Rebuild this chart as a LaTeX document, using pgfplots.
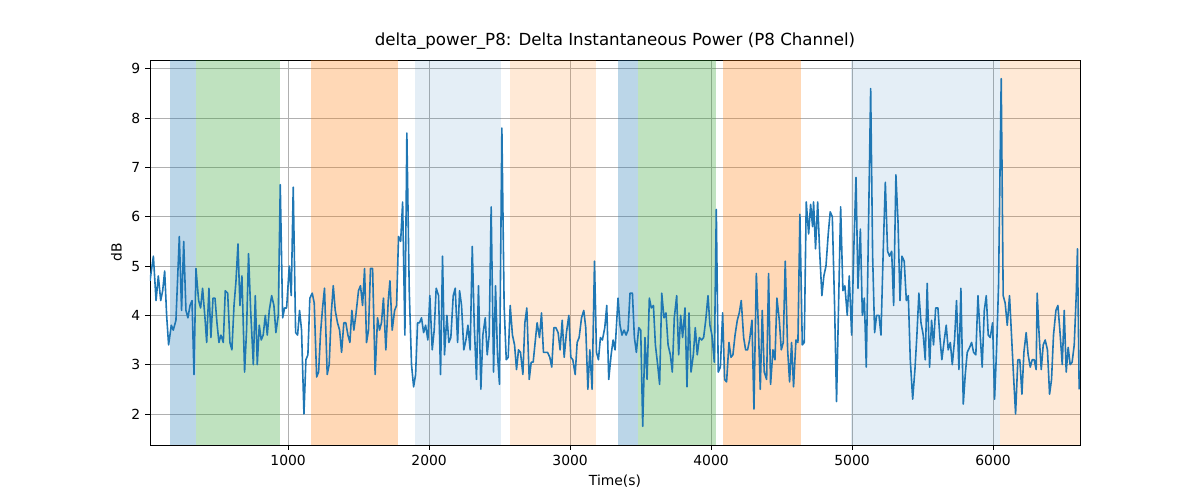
\documentclass[border=0pt]{standalone}
\usepackage{pgfplots}
\pgfplotsset{compat=1.18}
\usepackage{fontspec}
\setmainfont{DejaVu Sans}
\definecolor{tb}{HTML}{1F77B4}
\definecolor{tg}{HTML}{2CA02C}
\definecolor{to}{HTML}{FF7F0E}
\definecolor{gr}{HTML}{B0B0B0}
\begin{document}
\begin{tikzpicture}
\path[use as bounding box] (-108pt,-39.6pt) rectangle (756pt,320.4pt);
\begin{axis}[at={(0,0)},anchor=south west,scale only axis,width=669.6pt,height=277.2pt,
xmin=20,xmax=6617,ymin=1.37,ymax=9.18,
xtick={1000,2000,3000,4000,5000,6000},ytick={2,3,4,5,6,7,8,9},
xtick pos=left,ytick pos=left,
grid=major,grid style={color=gr,line width=0.58pt},
tick align=outside,tick style={black,line width=0.58pt},major tick length=3.5pt,
axis line style={line width=0.58pt},
/pgf/number format/assume math mode=true,
/pgf/number format/set thousands separator={},
ticklabel style={font=\fontsize{10}{12}\selectfont},
label style={font=\fontsize{10}{12}\selectfont},
xlabel={Time(s)},ylabel={dB},
title={delta\_power\_P8: Delta Instantaneous Power (P8 Channel)},
title style={font=\fontsize{12}{14}\selectfont,yshift=-2pt},
clip=true]
\fill[tb,opacity=0.3] (axis cs:163,1.37) rectangle (axis cs:348,9.18);
\fill[tg,opacity=0.3] (axis cs:348,1.37) rectangle (axis cs:943,9.18);
\fill[to,opacity=0.3] (axis cs:1163,1.37) rectangle (axis cs:1780,9.18);
\fill[tb,opacity=0.12] (axis cs:1901,1.37) rectangle (axis cs:2511,9.18);
\fill[to,opacity=0.17] (axis cs:2574,1.37) rectangle (axis cs:3184,9.18);
\fill[tb,opacity=0.3] (axis cs:3340,1.37) rectangle (axis cs:3482,9.18);
\fill[tg,opacity=0.3] (axis cs:3482,1.37) rectangle (axis cs:4035,9.18);
\fill[to,opacity=0.3] (axis cs:4085,1.37) rectangle (axis cs:4638,9.18);
\fill[tb,opacity=0.12] (axis cs:4993,1.37) rectangle (axis cs:6050,9.18);
\fill[to,opacity=0.17] (axis cs:6050,1.37) rectangle (axis cs:6617,9.18);
\addplot[tb,line width=1.15pt,line join=round] coordinates {
(20,4.7)(44,5.2)(63,4.3)(79,4.8)(96,4.3)(110,4.5)(124,4.9)(138,4.0)(152,3.4)(171,3.8)(185,3.7)(204,3.9)(228,5.6)(244,4.1)(259,5.5)(275,4.1)(289,3.95)(304,4.2)(318,4.3)(332,2.8)(346,4.95)(365,4.3)(379,4.15)(393,4.55)(410,3.95)(422,3.45)(438,4.55)(452,3.55)(467,4.35)(481,4.35)(495,3.85)(509,3.45)(523,3.6)(540,3.45)(554,4.5)(571,4.45)(587,3.45)(601,3.3)(616,4.2)(630,4.7)(644,5.45)(658,4.2)(672,4.8)(691,2.85)(705,3.7)(719,5.25)(734,4.1)(753,3.0)(767,4.4)(781,3.0)(795,3.8)(809,3.5)(823,3.6)(838,4.0)(852,3.6)(866,4.1)(883,4.4)(899,4.2)(913,3.65)(930,4.0)(944,6.65)(961,3.95)(975,4.15)(989,4.15)(1008,5.0)(1022,4.4)(1036,6.6)(1053,3.65)(1067,3.6)(1081,4.1)(1095,3.7)(1112,2.0)(1126,3.1)(1140,3.2)(1154,4.35)(1171,4.45)(1185,4.25)(1202,2.75)(1216,2.85)(1230,3.65)(1244,4.15)(1258,4.55)(1277,2.8)(1291,3.0)(1306,4.05)(1320,4.6)(1334,4.1)(1350,3.85)(1365,3.7)(1379,3.25)(1395,3.85)(1409,3.85)(1424,3.6)(1438,3.45)(1452,4.1)(1466,3.7)(1480,4.0)(1499,4.5)(1513,4.6)(1528,4.2)(1542,4.95)(1556,3.45)(1570,3.7)(1584,4.95)(1599,4.95)(1617,2.8)(1634,3.95)(1648,3.7)(1662,3.85)(1676,4.35)(1693,3.3)(1710,4.3)
(1722,4.7)(1738,3.7)(1755,4.1)(1769,4.2)(1783,5.6)(1798,5.5)(1812,6.3)(1828,3.6)(1842,7.7)(1859,4.5)(1875,3.0)(1890,2.55)(1904,2.8)(1918,3.85)(1932,3.85)(1946,3.95)(1961,3.65)(1975,3.8)(1991,3.5)(2005,4.4)(2022,3.3)(2036,3.7)(2050,4.55)(2067,4.4)(2081,2.8)(2095,5.2)(2109,3.2)(2126,4.0)(2140,3.45)(2154,3.55)(2171,4.4)(2185,4.55)(2202,3.45)(2216,4.5)(2230,4.2)(2246,3.3)(2261,3.5)(2275,3.8)(2291,3.3)(2306,5.4)(2320,3.8)(2336,2.7)(2350,4.6)(2367,2.5)(2381,3.6)(2398,3.95)(2412,3.2)(2426,3.6)(2440,6.2)(2457,2.85)(2471,4.6)(2485,3.2)(2499,2.6)(2516,7.8)(2532,4.2)(2547,3.1)(2561,3.15)(2575,4.2)(2591,3.6)(2606,3.4)(2620,2.9)(2634,3.3)(2648,3.25)(2665,2.8)(2679,3.85)(2693,4.15)(2710,2.7)(2724,3.05)(2738,3.05)(2752,3.45)(2766,3.85)(2783,3.55)(2797,4.05)(2811,3.25)(2825,3.25)(2840,3.25)(2856,3.15)(2870,2.95)(2885,3.75)(2899,3.75)(2915,3.65)(2929,3.3)(2944,3.9)(2958,3.15)(2974,3.65)(2991,4.0)(3005,3.15)(3019,3.1)(3036,2.8)(3050,3.45)(3064,3.55)(3081,3.95)(3097,4.1)(3111,3.75)(3126,2.5)(3140,3.3)(3156,2.5)(3173,5.1)(3187,3.25)(3201,3.1)(3215,3.55)(3229,3.5)(3246,3.75)(3260,4.2)(3274,2.7)(3291,3.2)(3305,3.5)(3319,3.3)
(3340,4.35)(3354,3.8)(3368,3.6)(3383,3.7)(3397,3.6)(3411,3.7)(3425,4.45)(3442,4.45)(3456,3.55)(3470,3.25)(3487,3.75)(3501,3.7)(3515,1.75)(3531,3.55)(3546,2.7)(3562,4.35)(3576,4.15)(3591,4.2)(3605,3.4)(3621,3.0)(3635,2.6)(3650,4.45)(3666,3.95)(3680,4.05)(3695,3.4)(3711,3.2)(3725,2.85)(3739,3.95)(3756,4.4)(3770,3.2)(3784,4.0)(3798,3.55)(3815,4.15)(3829,2.55)(3843,4.05)(3858,2.85)(3874,3.2)(3888,3.75)(3902,3.2)(3917,3.55)(3933,3.5)(3947,3.55)(3962,3.9)(3978,4.4)(3992,3.8)(4006,3.6)(4023,3.05)(4037,6.15)(4051,2.85)(4066,2.95)(4082,4.05)(4096,2.7)(4110,2.65)(4127,3.45)(4141,3.15)(4155,3.2)(4170,3.6)(4186,3.9)(4200,4.05)(4214,4.3)(4231,3.55)(4245,3.3)(4259,3.3)(4273,3.5)(4290,3.9)(4304,2.1)(4321,4.85)(4335,3.8)(4349,2.5)(4363,4.1)(4377,2.85)(4394,2.7)(4408,4.85)(4422,2.6)(4439,3.3)(4453,3.1)(4467,4.35)(4484,3.9)(4498,3.3)(4512,3.45)(4526,5.1)(4543,3.3)(4557,2.65)(4571,3.45)(4585,2.55)(4602,3.5)(4616,3.45)(4630,6.05)(4647,3.4)(4661,3.45)(4675,6.3)(4692,5.65)(4706,6.25)(4720,5.8)(4727,6.3)(4741,5.35)(4756,6.3)(4770,5.3)(4786,4.4)(4800,4.8)(4815,5.0)(4831,5.65)(4845,6.1)(4860,6.0)(4876,4.2)(4890,2.25)(4905,4.3)(4919,6.2)(4935,4.5)(4949,4.6)(4966,4.0)(4980,4.8)
(4997,3.6)(5014,5.5)(5028,6.8)(5042,4.55)(5059,5.75)(5073,4.0)(5087,4.35)(5101,2.95)(5132,8.6)(5146,5.2)(5160,3.65)(5174,4.0)(5191,4.0)(5205,3.6)(5222,5.4)(5236,6.7)(5252,5.3)(5266,5.2)(5281,5.3)(5295,4.2)(5311,6.85)(5326,5.9)(5340,4.3)(5354,5.2)(5370,5.1)(5385,4.3)(5399,4.4)(5413,3.1)(5430,2.3)(5446,2.9)(5460,3.6)(5474,4.45)(5489,3.85)(5505,3.6)(5519,3.1)(5533,4.65)(5550,2.95)(5564,3.9)(5578,3.4)(5593,4.15)(5609,4.15)(5623,3.55)(5637,3.1)(5654,3.5)(5668,3.8)(5682,3.3)(5697,3.45)(5711,3.0)(5727,3.5)(5741,4.3)(5758,2.9)(5772,4.55)(5789,2.2)(5803,2.8)(5817,3.25)(5834,3.35)(5848,3.45)(5862,3.25)(5878,3.2)(5893,4.4)(5909,3.6)(5923,2.95)(5938,4.1)(5952,4.4)(5966,3.6)(5980,3.55)(5997,3.85)(6011,2.3)(6025,3.3)(6039,4.6)(6058,8.8)(6072,4.4)(6086,4.25)(6101,3.8)(6117,4.4)(6131,3.6)(6145,2.8)(6160,2.0)(6176,3.1)(6190,3.1)(6205,2.4)(6219,3.25)(6235,3.65)(6249,3.2)(6264,2.95)(6278,3.1)(6292,3.1)(6306,2.9)(6313,4.45)(6327,3.6)(6342,2.9)(6356,3.4)(6370,3.5)(6386,3.3)(6401,2.4)(6415,2.7)(6429,3.6)(6446,4.1)(6460,4.2)(6474,3.7)(6491,3.0)(6505,4.1)(6519,2.85)(6533,3.35)(6547,3.0)(6561,3.05)(6576,3.4)(6590,4.4)(6599,5.35)(6611,2.5)
};
\end{axis}
\end{tikzpicture}
\end{document}
